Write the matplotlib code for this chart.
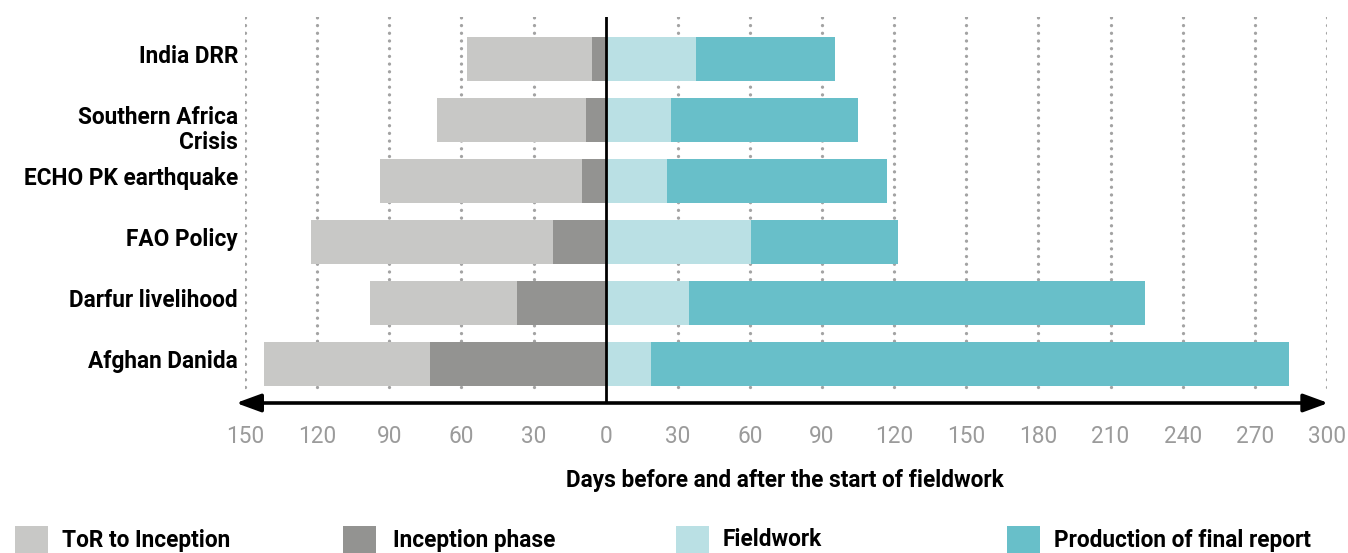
import matplotlib
matplotlib.use("Agg")
import matplotlib.pyplot as plt
import matplotlib.transforms as mtransforms
from matplotlib.patches import Rectangle

plt.rcParams['font.family'] = ['Roboto', 'DejaVu Sans']

# evaluations, top to bottom
evaluations = ['India DRR', 'Southern Africa\nCrisis', 'ECHO PK earthquake',
               'FAO Policy', 'Darfur livelihood', 'Afghan Danida']

# durations in days (before fieldwork: tor + inception, after: fieldwork + report)
tor_days = [52, 62, 84, 100.5, 61, 69]
inception_days = [5.5, 8, 10, 22, 37, 73]
fieldwork_days = [37.5, 27, 25.5, 60.5, 34.5, 19]
report_days = [58, 78, 91.5, 61, 190, 265]

tick_values = list(range(-150, 301, 30))
tick_labels = [str(abs(v)) for v in tick_values]

legend_names = ['ToR to Inception', 'Inception phase', 'Fieldwork', 'Production of final report']
colors = ['#c8c8c6', '#939391', '#bae0e4', '#68bfc9']

W, H = 1348, 553
fig = plt.figure(figsize=(W / 100, H / 100), dpi=100)
ax = fig.add_axes([245 / W, 1 - 403 / H, (1327 - 245) / W, (403 - 17) / H])

rows = range(len(evaluations))
bar_h = 0.72

# grid lines (dotted), drawn under bars
for v in tick_values:
    if v == 0:
        continue
    ax.axvline(v, ymin=(403 - 387) / 386, ymax=1, color='#a3a3a3', lw=2.4,
               linestyle=(0, (0.01, 2.3)), dash_capstyle='round', zorder=0)

inc_left = [-d for d in inception_days]
tor_left = [-(a + b) for a, b in zip(tor_days, inception_days)]
rep_left = list(fieldwork_days)

ax.barh(rows, tor_days, left=tor_left, height=bar_h, color=colors[0], zorder=2)
ax.barh(rows, inception_days, left=inc_left, height=bar_h, color=colors[1], zorder=2)
ax.barh(rows, fieldwork_days, left=0, height=bar_h, color=colors[2], zorder=2)
ax.barh(rows, report_days, left=rep_left, height=bar_h, color=colors[3], zorder=2)

ax.axvline(0, color='black', lw=2, zorder=3)

ax.set_xlim(-150, 300)
ax.set_ylim(5.64, -0.69)
ax.set_xticks(tick_values)
ax.set_xticklabels(tick_labels, fontsize=16.3, color='#9b9b9b')
ax.set_yticks(list(rows))
ax.set_yticklabels(evaluations, fontsize=16.3, fontweight='bold', color='black',
                   linespacing=1.15)
ax.tick_params(axis='x', length=0, pad=16)
ax.tick_params(axis='y', length=0, pad=5)
# single-line labels sit a little above the bar centre, the two-line one below
for lbl in ax.get_yticklabels():
    dy = -6 if '\n' in lbl.get_text() else 5
    shift = mtransforms.ScaledTranslation(0, dy / 100, fig.dpi_scale_trans)
    lbl.set_transform(lbl.get_transform() + shift)
for s in ax.spines.values():
    s.set_visible(False)

# double-headed arrow along the bottom
ax.annotate('', xy=(300.5, 5.64), xytext=(-153.7, 5.64), xycoords='data',
            arrowprops=dict(arrowstyle='<|-|>,head_length=1.5,head_width=0.55',
                            color='black', lw=2.6, shrinkA=0, shrinkB=0),
            annotation_clip=False, zorder=4)

fig.text(785 / W, 1 - 480 / H, 'Days before and after the start of fieldwork',
         ha='center', va='center', fontsize=16.3, fontweight='bold')

# legend at the bottom
sq_x = [15, 343, 676, 1007]
txt_x = [62, 393, 723, 1054]
for name, c, sx, tx in zip(legend_names, colors, sq_x, txt_x):
    fig.add_artist(Rectangle((sx / W, 0), 33 / W, 27 / H, transform=fig.transFigure,
                             color=c, lw=0))
    fig.text(tx / W, 1 - 540 / H, name, ha='left', va='center',
             fontsize=16.3, fontweight='bold')

fig.savefig('out.png', dpi=100)
